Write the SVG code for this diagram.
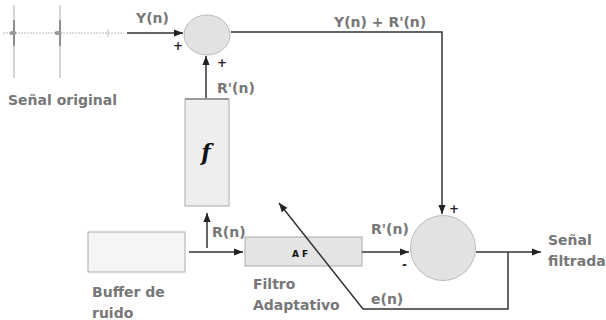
<svg xmlns="http://www.w3.org/2000/svg" width="606" height="320" viewBox="0 0 606 320">
<style>
.lbl{font-family:"DejaVu Sans",Verdana,sans-serif;font-weight:bold;font-size:14px;fill:#777}
.sm{font-family:"DejaVu Sans",Verdana,sans-serif;font-weight:bold;font-size:12px;fill:#222}
.ln{stroke:#333;stroke-width:1.5;fill:none}
.sum{fill:#e2e2e2;stroke:#bbb;stroke-width:1}
</style>
<defs>
<marker id="ah" viewBox="0 0 10 10" refX="10" refY="5" markerWidth="9" markerHeight="9" markerUnits="userSpaceOnUse" orient="auto">
<path d="M0,1 L10,5 L0,9 z" fill="#222"/>
</marker>
</defs>
<rect width="606" height="320" fill="#fff"/>
<g id="senal_original">
<line x1="3" y1="33" x2="124" y2="33" stroke="#bbb" stroke-width="1" stroke-dasharray="2,1"/>
<line x1="14" y1="5" x2="14" y2="78" stroke="#aaa" stroke-width="1"/>
<line x1="14" y1="20" x2="14" y2="46" stroke="#777" stroke-width="1.5"/>
<line x1="60" y1="5" x2="60" y2="78" stroke="#aaa" stroke-width="1"/>
<line x1="60" y1="20" x2="60" y2="46" stroke="#777" stroke-width="1.5"/>
<ellipse cx="13" cy="33" rx="3.5" ry="2" fill="#999"/>
<ellipse cx="58" cy="33" rx="3.5" ry="2" fill="#999"/>
<line x1="108" y1="29" x2="108" y2="37" stroke="#bbb" stroke-width="1"/>
<text class="lbl" x="8" y="105">Señal original</text>
</g>
<g id="sum1">
<ellipse class="sum" cx="207" cy="35" rx="23" ry="20"/>
<text class="sm" x="173" y="50">+</text>
<text class="sm" x="217" y="67">+</text>
</g>
<g id="f_block">
<rect x="185" y="99" width="44" height="107" fill="#eee" stroke="#aaa" stroke-width="1"/>
<line x1="185" y1="99" x2="229" y2="99" stroke="#888" stroke-width="1.5"/>
<text x="206" y="160" text-anchor="middle" font-family="'DejaVu Serif',serif" font-style="italic" font-weight="bold" font-size="22" fill="#111">f</text>
</g>
<g id="buffer">
<rect x="88" y="232" width="97" height="40" fill="#f5f5f5" stroke="#aaa" stroke-width="1"/>
<text class="lbl" x="92" y="297">Buffer de</text>
<text class="lbl" x="92" y="318">ruido</text>
</g>
<g id="filtro_adaptativo">
<rect x="245" y="237" width="117" height="29" fill="#e4e4e4" stroke="#aaa" stroke-width="1"/>
<text x="300" y="257" text-anchor="middle" font-family="'DejaVu Sans',sans-serif" font-weight="bold" font-size="9" fill="#111">A F</text>
<text class="lbl" x="253" y="289">Filtro</text>
<text class="lbl" x="253" y="310">Adaptativo</text>
</g>
<g id="sum2">
<circle class="sum" cx="443" cy="248" r="32.5"/>
<text class="sm" x="449" y="213">+</text>
<text class="sm" x="402" y="269">-</text>
</g>
<g id="salida">
<text class="lbl" x="548" y="245">Señal</text>
<text class="lbl" x="548" y="266">filtrada</text>
</g>
<g id="connectors">
<line class="ln" x1="127" y1="33" x2="183" y2="33" marker-end="url(#ah)"/>
<text class="lbl" x="136" y="23">Y(n)</text>
<line class="ln" x1="206" y1="98" x2="206" y2="56" marker-end="url(#ah)"/>
<text class="lbl" x="217" y="93">R'(n)</text>
<polyline class="ln" points="231,32 442,32 442,214" marker-end="url(#ah)"/>
<text class="lbl" x="334" y="27">Y(n) + R'(n)</text>
<line class="ln" x1="189" y1="252" x2="243" y2="252" marker-end="url(#ah)"/>
<line class="ln" x1="207" y1="248" x2="207" y2="213" marker-end="url(#ah)"/>
<text class="lbl" x="212" y="237">R(n)</text>
<line class="ln" x1="362" y1="252" x2="409" y2="252" marker-end="url(#ah)"/>
<text class="lbl" x="371" y="234">R'(n)</text>
<line class="ln" x1="476" y1="252" x2="541" y2="252" marker-end="url(#ah)"/>
<polyline class="ln" points="508,252 508,309 363,309 279,203" marker-end="url(#ah)"/>
<text class="lbl" x="371" y="304">e(n)</text>
</g>
</svg>
